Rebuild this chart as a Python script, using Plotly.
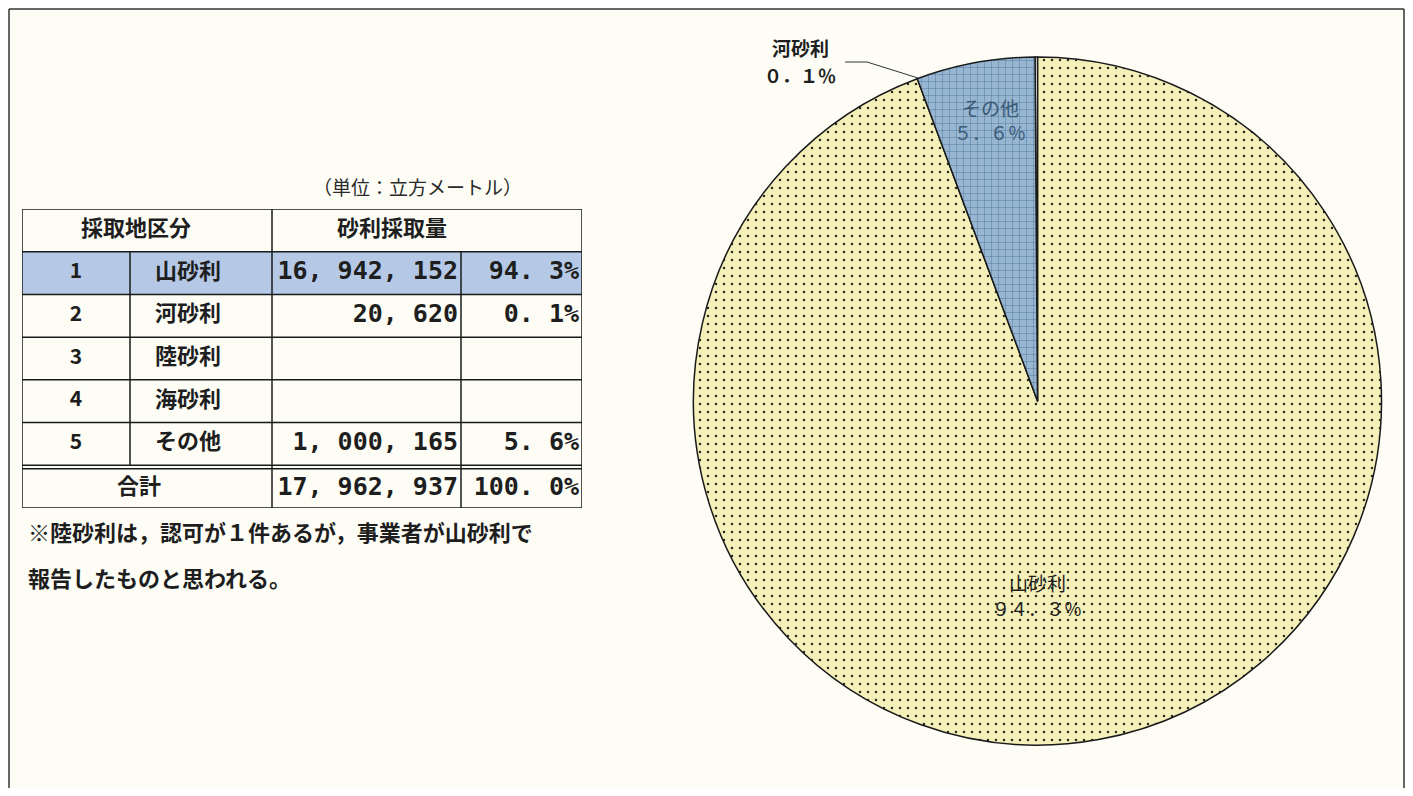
# -*- coding: utf-8 -*-
import plotly.graph_objects as go

# 表のデータ
row_no = ["1", "2", "3", "4", "5"]
kubun = ["山砂利", "河砂利", "陸砂利", "海砂利", "その他"]
amount = [16942152, 20620, None, None, 1000165]
total_label = "合計"
note_lines = ["※陸砂利は，認可が１件あるが，事業者が山砂利で", "報告したものと思われる。"]

# 円グラフの並び (12時から: 山砂利 → 河砂利 → その他)
pie_labels = ["山砂利", "河砂利", "その他"]

# ページのbody余白(8px)を差し引いた描画サイズ
OFF = 8
W, H = 1413 - 2 * OFF, 796 - 2 * OFF
def px(x): return (x - OFF) / W
def py(y): return 1 - (y - OFF) / H

total = sum(a for a in amount if a)
pct = [None if a is None else round(a / total * 100, 1) for a in amount]
pie_values = [amount[kubun.index(l)] for l in pie_labels]

def fmt_num(v):
    return "" if v is None else f"{v:,}".replace(",", ", ")

def fmt_pct(v):
    return "" if v is None else f"{v:.1f}".replace(".", ". ") + "%"

FW = str.maketrans("0123456789.%", "０１２３４５６７８９．％")
def zen(v):
    return f"{v:.1f}%".translate(FW)

fig = go.Figure()

# ---- 表 (隠した座標軸の上に描く) ----
nrows = 7  # 見出し + 5行 + 合計
JP = "Noto Sans CJK JP"
NUM = "DejaVu Sans Mono"
TXT = "#1e1e1e"

rows_y = [i + 1.5 for i in range(5)]
fig.add_trace(go.Scatter(x=[54] * 5, y=rows_y, text=row_no, mode="text",
                         textfont=dict(family=JP, size=21, color=TXT, weight="bold"),
                         hoverinfo="skip", showlegend=False))
fig.add_trace(go.Scatter(x=[166] * 5, y=rows_y, text=kubun, mode="text",
                         textfont=dict(family=JP, size=22, color=TXT, weight="bold"),
                         hoverinfo="skip", showlegend=False))
fig.add_trace(go.Scatter(x=[436] * 6, y=rows_y + [6.55],
                         text=[fmt_num(a) for a in amount] + [fmt_num(total)],
                         mode="text", textposition="middle left",
                         textfont=dict(family=NUM, size=25, color=TXT, weight="bold"),
                         hoverinfo="skip", showlegend=False))
fig.add_trace(go.Scatter(x=[557] * 6, y=rows_y + [6.55],
                         text=[fmt_pct(p) for p in pct] + [fmt_pct(100.0)],
                         mode="text", textposition="middle left",
                         textfont=dict(family=NUM, size=25, color=TXT, weight="bold"),
                         hoverinfo="skip", showlegend=False))
fig.add_trace(go.Scatter(x=[114, 370, 117], y=[0.5, 0.5, 6.55],
                         text=["採取地区分", "砂利採取量", total_label], mode="text",
                         textfont=dict(family=JP, size=22, color=TXT, weight="bold"),
                         hoverinfo="skip", showlegend=False))

shapes = []
LINE = dict(color="#1a1a1a", width=1.5)
# 1行目のハイライト
shapes.append(dict(type="rect", xref="x", yref="y", x0=0, x1=560, y0=1, y1=2,
                   fillcolor="#b5c9e6", line=dict(width=0), layer="below"))
# 外枠
shapes.append(dict(type="rect", xref="x", yref="y", x0=0, x1=560, y0=0, y1=7, line=LINE))
# 横線 (合計の上は二重線)
for r in [1, 2, 3, 4, 5, 6]:
    shapes.append(dict(type="line", xref="x", yref="y", x0=0, x1=560, y0=r, y1=r, line=LINE))
shapes.append(dict(type="line", xref="x", yref="y", x0=0, x1=560, y0=6.08, y1=6.08, line=LINE))
# 縦線
shapes.append(dict(type="line", xref="x", yref="y", x0=250, x1=250, y0=0, y1=7, line=LINE))
shapes.append(dict(type="line", xref="x", yref="y", x0=439, x1=439, y0=1, y1=7, line=LINE))
shapes.append(dict(type="line", xref="x", yref="y", x0=108, x1=108, y0=1, y1=6, line=LINE))

# ---- 円グラフ ----
fig.add_trace(go.Pie(
    labels=pie_labels, values=pie_values, sort=False, direction="counterclockwise",
    rotation=0, textinfo="none", hoverinfo="label+percent", showlegend=False,
    domain=dict(x=[px(692), px(1383)], y=[py(745), py(57)]),
    marker=dict(
        colors=["#f5f0ba", "#ffffff", "#97b6d2"],
        line=dict(color="#1a1a1a", width=1.5),
        pattern=dict(shape=[".", "", "+"],
                     bgcolor=["#f5f0ba", "#ffffff", "#97b6d2"],
                     fgcolor=["#2a2a1a", "#222", "#4d7092"],
                     size=[8, 8, 7], solidity=[0.08, 0.2, 0.12]),
    ),
))

# 河砂利の引出線
shapes.append(dict(type="path", xref="paper", yref="paper",
                   path=f"M {px(845)},{py(62)} L {px(867)},{py(62)} L {px(918)},{py(78)}",
                   line=dict(color="#333", width=1)))

# ページの枠
FR = dict(color="#333", width=1.5)
shapes.append(dict(type="line", xref="paper", yref="paper", x0=px(9), x1=px(9), y0=py(9), y1=0, line=FR))
shapes.append(dict(type="line", xref="paper", yref="paper", x0=px(9), x1=px(1404), y0=py(9), y1=py(9), line=FR))
shapes.append(dict(type="line", xref="paper", yref="paper", x0=px(1404), x1=px(1404), y0=py(9), y1=0, line=FR))

def note(x, y, text, size, color=TXT, bold=False, anchor="center"):
    return dict(x=px(x), y=py(y), xref="paper", yref="paper",
                xanchor=anchor, yanchor="middle", text=text, showarrow=False,
                font=dict(family=JP, size=size, color=color,
                          weight="bold" if bold else "normal"))

annotations = [
    note(417, 187, "（単位：立方メートル）", 19, "#2a2a2a"),
    note(26, 531, note_lines[0], 22, bold=True, anchor="left"),
    note(26, 577, note_lines[1], 22, bold=True, anchor="left"),
    note(800, 47, pie_labels[1], 19, bold=True),
    note(800, 75, zen(pct[1]), 18, bold=True),
    note(990, 107, pie_labels[2], 19, "#3a5874"),
    note(990, 132, zen(pct[4]), 18, "#3a5874"),
    note(1037, 582, pie_labels[0], 19),
    note(1037, 608, zen(pct[0]), 18),
]

fig.update_layout(
    width=W, height=H, margin=dict(l=0, r=0, t=0, b=0),
    paper_bgcolor="#fdfdf6", plot_bgcolor="rgba(0,0,0,0)",
    xaxis=dict(domain=[px(22), px(582)], range=[0, 560], visible=False, fixedrange=True),
    yaxis=dict(domain=[py(508), py(209)], range=[nrows, 0], visible=False, fixedrange=True),
    shapes=shapes, annotations=annotations,
)

fig.write_html("out.html")
